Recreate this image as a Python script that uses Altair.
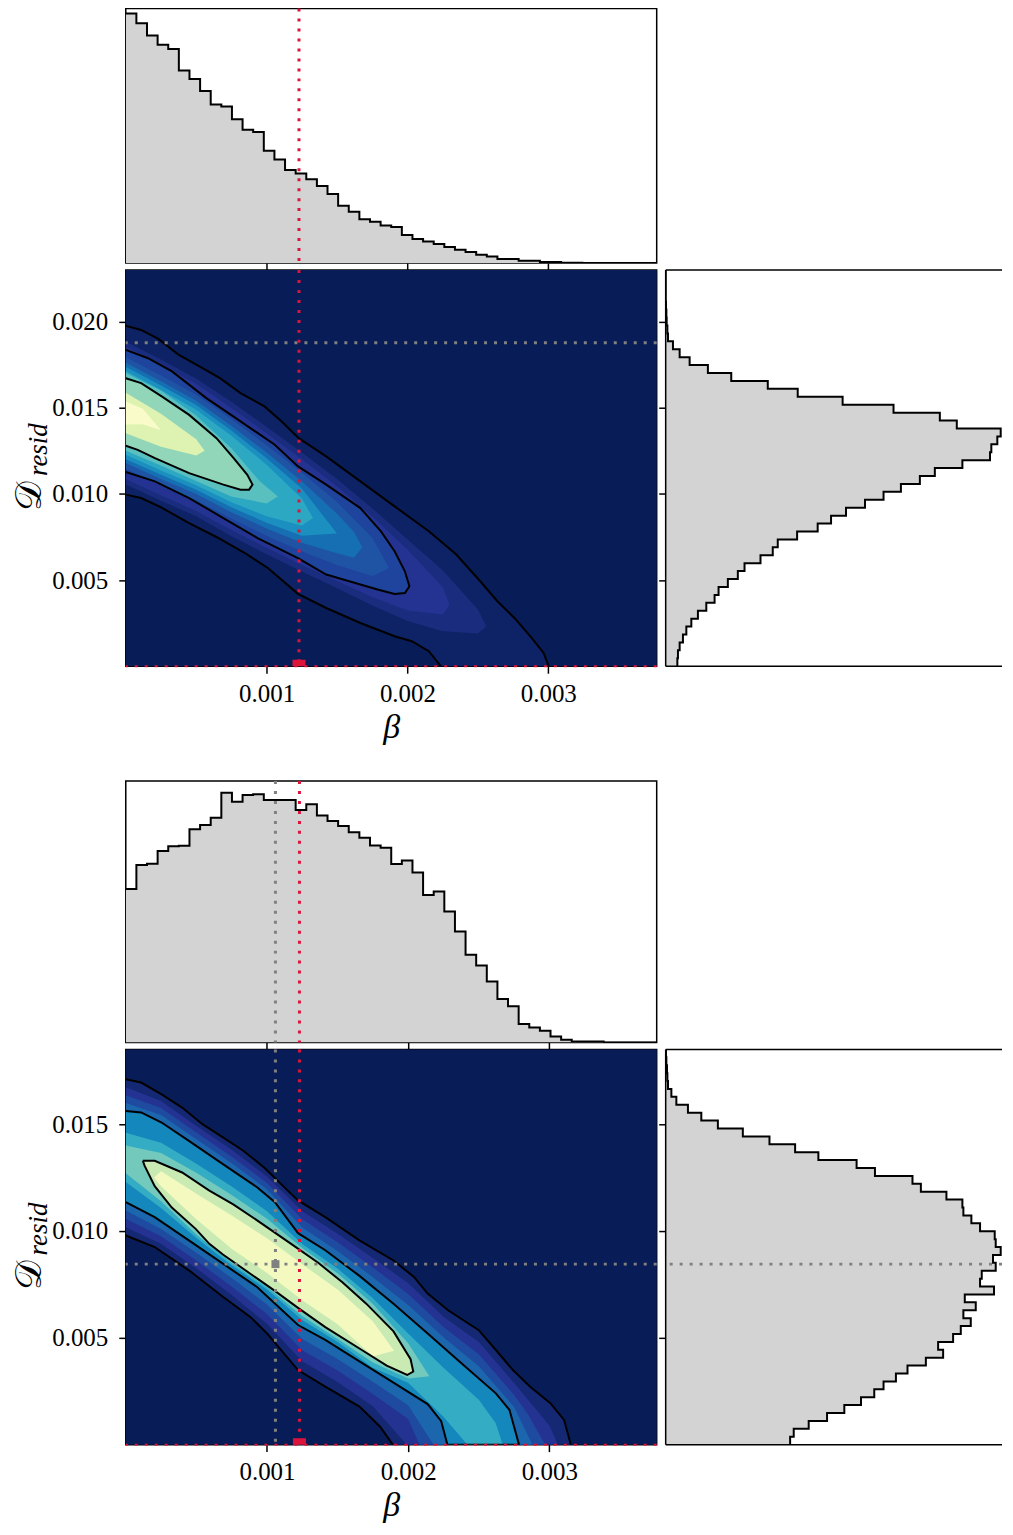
import altair as alt
import pandas as pd

FONT = "Liberation Serif"
RED = "#dc143c"
GRAY = "#808080"
HIST_FILL = "#d3d3d3"

CMAP_STOPS = [0, 0.125, 0.25, 0.375, 0.5, 0.625, 0.75, 0.875, 1.0]
CMAP_COLORS = ["#081d58", "#253494", "#225ea8", "#1d91c0", "#41b6c4",
               "#7fcdbb", "#c7e9b4", "#edf8b1", "#ffffd9"]

W_MAIN, W_RIGHT = 532, 337

# ---------------- figure 1 ----------------
X1_MAX, Y1_MAX = 0.00377, 0.0230
Y1_TICKS = [0.005, 0.010, 0.015, 0.020]
BETA_TRUE = 0.00123
F1_GRAY_D = 0.01878

TOP1 = [0.958, 0.920, 0.873, 0.838, 0.822, 0.739, 0.706, 0.660, 0.609, 0.601,
        0.552, 0.512, 0.503, 0.431, 0.397, 0.357, 0.344, 0.322, 0.296, 0.265,
        0.220, 0.197, 0.168, 0.158, 0.144, 0.138, 0.108, 0.092, 0.083, 0.073,
        0.061, 0.051, 0.042, 0.032, 0.025, 0.015, 0.015, 0.009, 0.009, 0.004,
        0.004, 0.001, 0.001, 0, 0, 0, 0, 0, 0, 0]
RIGHT1 = [11.7, 12.3, 14.0, 17.3, 20.7, 25.7, 32.3, 40.7, 49.0, 53.0,
          62.3, 72.3, 79.0, 95.0, 107.3, 112.3, 131.7, 152.3, 165.7, 180.7,
          199.7, 218.3, 235.7, 254.7, 269.7, 297.3, 325.0, 326.3, 332.3, 335.7,
          291.7, 274.7, 228.3, 177.3, 132.3, 102.3, 65.7, 42.3, 24.0, 14.0,
          7.3, 2.3, 1.7, 1.0, 0.7, 0.3, 0, 0, 0, 0]

C1_OUT_UP = [(0, 0.01976), (0.000109, 0.01952), (0.000231, 0.0190), (0.000377, 0.01807),
             (0.000523, 0.0174), (0.000669, 0.01672), (0.000815, 0.01585), (0.000985, 0.01508),
             (0.001107, 0.01421), (0.001228, 0.01324), (0.001423, 0.01218), (0.001666, 0.01073),
             (0.001909, 0.00928), (0.002152, 0.00783), (0.002347, 0.00648), (0.002517, 0.00493),
             (0.002639, 0.00377), (0.00276, 0.0028), (0.002882, 0.00164), (0.002967, 0.00077),
             (0.003003, 0.0)]
C1_OUT_LO = [(0, 0.00996), (0.000109, 0.00976), (0.000255, 0.0092), (0.00045, 0.0083),
             (0.000644, 0.0075), (0.00084, 0.0066), (0.001009, 0.0057), (0.001223, 0.0042),
             (0.001423, 0.00338), (0.001666, 0.00251), (0.001909, 0.00174), (0.002031, 0.00145),
             (0.002152, 0.00087), (0.002237, 0.0)]
C1_MID = [(0, 0.01836), (0.000158, 0.01788), (0.000328, 0.01711), (0.000572, 0.01556),
          (0.000815, 0.01421), (0.001058, 0.01286), (0.001223, 0.0116), (0.001423, 0.01054),
          (0.001666, 0.00918), (0.001812, 0.00783), (0.001909, 0.00667), (0.001982, 0.00551),
          (0.002014, 0.00464), (0.001982, 0.00425), (0.001909, 0.00419), (0.001788, 0.00445),
          (0.001666, 0.00474), (0.001423, 0.00532), (0.001223, 0.00628), (0.000936, 0.00744),
          (0.000693, 0.0086), (0.00045, 0.00976), (0.000207, 0.01073), (0, 0.01127)]
C1_INNER = [(0, 0.01672), (0.000109, 0.01643), (0.000255, 0.01566), (0.00045, 0.01459),
            (0.000644, 0.01324), (0.000766, 0.01208), (0.000863, 0.01111), (0.0009, 0.01054),
            (0.000876, 0.01025), (0.000815, 0.01025), (0.000693, 0.01054), (0.00045, 0.01121),
            (0.000207, 0.01208), (0.000085, 0.01256), (0, 0.0128)]
# intermediate shading levels of figure 1
F1_L06 = [(0, 0.01885), (0.00025, 0.0178), (0.0005, 0.0167), (0.00075, 0.01535), (0.001, 0.0139),
          (0.00125, 0.0124), (0.0015, 0.01087), (0.00175, 0.00917), (0.002, 0.00737),
          (0.00225, 0.00557), (0.0025, 0.0033), (0.00256, 0.0023), (0.0025, 0.0019),
          (0.00225, 0.00203), (0.002, 0.00263), (0.00175, 0.00353), (0.0015, 0.00453),
          (0.00125, 0.0055), (0.001, 0.0065), (0.00075, 0.00755), (0.0005, 0.0087),
          (0.00025, 0.0096), (0, 0.01055)]
F1_L09 = [(0, 0.01854), (0.00025, 0.01748), (0.0005, 0.01639), (0.00075, 0.01499), (0.001, 0.01353),
          (0.00125, 0.01202), (0.0015, 0.01045), (0.00175, 0.00869), (0.002, 0.00677),
          (0.00225, 0.0046), (0.0023, 0.00355), (0.00225, 0.003), (0.002, 0.00323),
          (0.00175, 0.00401), (0.0015, 0.00495), (0.00125, 0.00588), (0.001, 0.00687),
          (0.00075, 0.00791), (0.0005, 0.00901), (0.00025, 0.00992), (0, 0.01086)]
F1_L18 = [(0, 0.01794), (0.00025, 0.01687), (0.0005, 0.01576), (0.00075, 0.01433), (0.001, 0.01282),
          (0.00125, 0.01123), (0.0015, 0.00953), (0.00175, 0.00746), (0.00187, 0.0057),
          (0.00175, 0.00524), (0.0015, 0.00587), (0.00125, 0.00667), (0.001, 0.00758),
          (0.00075, 0.00857), (0.0005, 0.00964), (0.00025, 0.01053), (0, 0.01146)]
F1_L25 = [(0, 0.01761), (0.00025, 0.01654), (0.0005, 0.01541), (0.00075, 0.01396), (0.001, 0.0124),
          (0.00125, 0.01073), (0.0015, 0.00885), (0.00162, 0.0078), (0.00168, 0.0069),
          (0.00162, 0.0063), (0.0015, 0.00655), (0.00125, 0.00717), (0.001, 0.008),
          (0.00075, 0.00894), (0.0005, 0.00999), (0.00025, 0.01086), (0, 0.01179)]
F1_L31 = [(0, 0.01738), (0.00025, 0.01629), (0.0005, 0.01516), (0.00075, 0.01368), (0.001, 0.01207),
          (0.00125, 0.01032), (0.0015, 0.0077), (0.00125, 0.00758), (0.001, 0.00833),
          (0.00075, 0.00922), (0.0005, 0.01024), (0.00025, 0.01111), (0, 0.01202)]
F1_L38 = [(0, 0.01713), (0.00025, 0.01604), (0.0005, 0.01489), (0.00075, 0.01338), (0.001, 0.0117),
          (0.00125, 0.00973), (0.00133, 0.0086), (0.00125, 0.00817), (0.001, 0.0087),
          (0.00075, 0.00952), (0.0005, 0.01051), (0.00025, 0.01136), (0, 0.01227)]
F1_L48 = [(0, 0.01702), (0.00025, 0.016), (0.0005, 0.01455), (0.00075, 0.01265), (0.00095, 0.01075),
          (0.00108, 0.00985), (0.001, 0.00945), (0.00075, 0.00985), (0.0005, 0.01075),
          (0.00025, 0.01165), (0, 0.0125)]
F1_L80 = [(0, 0.01587), (0.00025, 0.01466), (0.0005, 0.01317), (0.00056, 0.0125),
          (0.0005, 0.01223), (0.00025, 0.01274), (0, 0.01353)]
F1_L93 = [(0, 0.01537), (0.00012, 0.01495), (0.00025, 0.0137), (0.00012, 0.01405), (0, 0.01403)]

# ---------------- figure 2 ----------------
X2_MAX, Y2_MAX = 0.00376, 0.0185
Y2_TICKS = [0.005, 0.010, 0.015]
F2_GRAY_BETA, F2_GRAY_D = 0.00106, 0.00845

TOP2 = [0.587, 0.679, 0.683, 0.732, 0.750, 0.752, 0.815, 0.832, 0.859, 0.955,
        0.921, 0.946, 0.949, 0.927, 0.927, 0.927, 0.889, 0.911, 0.868, 0.847,
        0.828, 0.804, 0.783, 0.753, 0.745, 0.682, 0.696, 0.650, 0.564, 0.577,
        0.501, 0.424, 0.335, 0.294, 0.233, 0.166, 0.138, 0.071, 0.057, 0.045,
        0.023, 0.010, 0.004, 0.004, 0.004, 0, 0, 0, 0, 0]
RIGHT2 = [124.7, 128.3, 143.3, 161.7, 179.0, 195.7, 209.0, 218.3, 230.7, 242.3,
          260.7, 278.0, 273.0, 288.0, 295.7, 305.7, 298.3, 310.7, 299.7, 329.0,
          315.0, 316.7, 330.7, 328.0, 335.7, 330.7, 329.7, 315.0, 306.3, 298.3,
          297.3, 281.3, 255.7, 247.3, 209.7, 191.3, 153.0, 129.7, 104.0, 77.3,
          52.3, 35.7, 22.3, 10.7, 5.7, 2.3, 1.7, 1.3, 0.7, 0.3]

C2_OUT_UP = [(0, 0.0171), (0.000109, 0.01695), (0.000254, 0.0164), (0.000399, 0.01578),
             (0.000543, 0.015), (0.000688, 0.01438), (0.000833, 0.01376), (0.000978, 0.01298),
             (0.001075, 0.01236), (0.00122, 0.01143), (0.001413, 0.01065), (0.001655, 0.00956),
             (0.001896, 0.00862), (0.002041, 0.00785), (0.002138, 0.00707), (0.002283, 0.00629),
             (0.0025, 0.00536), (0.002621, 0.00443), (0.002742, 0.00349), (0.002862, 0.00272),
             (0.003007, 0.00194), (0.003104, 0.00116), (0.003152, 0.0)]
C2_OUT_LO = [(0, 0.00979), (0.000205, 0.00925), (0.000447, 0.00816), (0.000688, 0.00692),
             (0.000882, 0.00598), (0.001002, 0.0052), (0.00122, 0.00349), (0.001413, 0.00272),
             (0.001655, 0.00178), (0.0018, 0.00085), (0.001891, 0.0)]
C2_MID_UP = [(0, 0.01562), (0.000109, 0.01555), (0.000254, 0.01508), (0.000447, 0.01422),
             (0.000688, 0.01313), (0.00093, 0.01205), (0.001056, 0.01135), (0.00122, 0.0099),
             (0.001413, 0.0091), (0.001655, 0.0079), (0.001896, 0.0066), (0.002138, 0.0052),
             (0.002379, 0.0038), (0.002621, 0.0024), (0.002717, 0.00163), (0.002785, 0.0)]
C2_MID_LO = [(0, 0.01135), (0.000205, 0.01065), (0.000447, 0.00956), (0.000688, 0.00847),
             (0.00093, 0.00738), (0.00122, 0.0056), (0.001413, 0.0049), (0.001655, 0.0039),
             (0.001896, 0.0029), (0.002138, 0.0019), (0.002234, 0.0011), (0.002278, 0.0)]
C2_INNER = [(0.000121, 0.01329), (0.000205, 0.01329), (0.000399, 0.01274), (0.000592, 0.01189),
            (0.000761, 0.01125), (0.00093, 0.0105), (0.001171, 0.0094), (0.001365, 0.0085),
            (0.001534, 0.0076), (0.001703, 0.0066), (0.001896, 0.0053), (0.002017, 0.0040),
            (0.002036, 0.00342), (0.001993, 0.00326), (0.001848, 0.0037), (0.001655, 0.0045),
            (0.001413, 0.0055), (0.00122, 0.0064), (0.001056, 0.0072), (0.000882, 0.0080),
            (0.000688, 0.0089), (0.000592, 0.0094), (0.000495, 0.0101), (0.000326, 0.0111),
            (0.000205, 0.0121), (0.000133, 0.01306), (0.000121, 0.01329)]
# intermediate shading levels of figure 2
F2_OO = [(0, 0.01673), (0.00025, 0.01609), (0.0005, 0.01492), (0.00075, 0.0138), (0.001, 0.01255),
         (0.00125, 0.01093), (0.0015, 0.00987), (0.00175, 0.00874), (0.002, 0.00756),
         (0.00225, 0.00599), (0.0025, 0.0048), (0.00275, 0.00288), (0.003, 0.0009),
         (0.00306, 0.0), (0.00199, 0.0), (0.00175, 0.0018), (0.0015, 0.00293), (0.00125, 0.0039),
         (0.001, 0.00566), (0.00075, 0.00701), (0.0005, 0.00826), (0.00025, 0.0094), (0, 0.01018)]
F2_OM = [(0, 0.01636), (0.00025, 0.01576), (0.0005, 0.01461), (0.00075, 0.01348), (0.001, 0.01225),
         (0.00125, 0.01055), (0.0015, 0.00947), (0.00175, 0.00829), (0.002, 0.00705),
         (0.00225, 0.00551), (0.0025, 0.00423), (0.00275, 0.00232), (0.00285, 0.0014),
         (0.00297, 0.0), (0.00208, 0.0), (0.002, 0.0012), (0.00175, 0.00237), (0.0015, 0.00347),
         (0.00125, 0.00442), (0.001, 0.00611), (0.00075, 0.0074), (0.0005, 0.00862),
         (0.00025, 0.00975), (0, 0.01057)]
F2_OMM = [(0, 0.01599), (0.00025, 0.01543), (0.0005, 0.0143), (0.00075, 0.01317), (0.001, 0.01196),
          (0.00125, 0.01017), (0.0015, 0.00907), (0.00175, 0.00784), (0.002, 0.00654),
          (0.00225, 0.00503), (0.0025, 0.00367), (0.00275, 0.00176), (0.00288, 0.0),
          (0.00218, 0.0), (0.002, 0.00184), (0.00175, 0.00294), (0.0015, 0.00401),
          (0.00125, 0.00495), (0.001, 0.00656), (0.00075, 0.0078), (0.0005, 0.00898),
          (0.00025, 0.0101), (0, 0.01096)]
F2_MI = [(0, 0.0146), (0.00025, 0.01413), (0.0005, 0.01315), (0.00075, 0.01208), (0.001, 0.01093),
         (0.00125, 0.00939), (0.0015, 0.00824), (0.00175, 0.00685), (0.002, 0.0052),
         (0.00225, 0.0036), (0.0025, 0.0021), (0.00262, 0.001), (0.00267, 0.0), (0.00242, 0.0),
         (0.00225, 0.0013), (0.002, 0.0029), (0.00175, 0.0036), (0.0015, 0.0048),
         (0.00125, 0.00584), (0.001, 0.00726), (0.00075, 0.0084), (0.0005, 0.00967),
         (0.00025, 0.01108), (0, 0.0123)]
F2_MII = [(0, 0.0140), (0.00025, 0.01365), (0.0005, 0.01273), (0.00075, 0.01169), (0.001, 0.01057),
          (0.00125, 0.0092), (0.0015, 0.00802), (0.00175, 0.00658), (0.002, 0.00475),
          (0.00215, 0.0032), (0.002, 0.0031), (0.00175, 0.00385), (0.0015, 0.00495),
          (0.00125, 0.00602), (0.001, 0.00738), (0.00075, 0.0085), (0.0005, 0.00984),
          (0.00025, 0.01139), (0, 0.0127)]
F2_IN = [(0.0002, 0.0125), (0.00025, 0.0128), (0.0005, 0.01175), (0.00075, 0.01073),
         (0.001, 0.00966), (0.00125, 0.00844), (0.0015, 0.00726), (0.00175, 0.00576),
         (0.0019, 0.0044), (0.00175, 0.00414), (0.0015, 0.00564), (0.00125, 0.00676),
         (0.001, 0.00804), (0.00075, 0.00917), (0.0005, 0.01055), (0.00025, 0.0121)]


# ---------------- helpers ----------------
def poly_df(points, value=None, gid=0):
    df = pd.DataFrame(points, columns=["b", "d"])
    df["i"] = range(len(df))
    df["g"] = gid
    if value is not None:
        df["v"] = value
    return df


def step_points(values, lo, hi):
    n = len(values)
    w = (hi - lo) / n
    pts = [(lo, 0.0)]
    for i, v in enumerate(values):
        pts.append((lo + i * w, v))
        pts.append((lo + (i + 1) * w, v))
    pts.append((hi, 0.0))
    return pts


def vrule(xval, color, X, width=3, dash=(3, 7)):
    return alt.Chart(pd.DataFrame({"b": [xval]})).mark_rule(
        color=color, strokeWidth=width, strokeDash=list(dash)).encode(x=X)


def hrule(yval, color, Y, width=3, dash=(3, 7)):
    return alt.Chart(pd.DataFrame({"d": [yval]})).mark_rule(
        color=color, strokeWidth=width, strokeDash=list(dash)).encode(y=Y)


def top_hist(values, xmax, height, ytop, vlines):
    xs = alt.Scale(domain=[0, xmax], nice=False, zero=False)
    X = alt.X("b:Q", scale=xs, axis=alt.Axis(values=[0.001, 0.002, 0.003], labels=False,
                                            title=None, ticks=True, tickSize=7))
    Y = alt.Y("h:Q", scale=alt.Scale(domain=[0, ytop], nice=False), axis=None)
    pts = step_points(values, 0.0, xmax)
    df = pd.DataFrame(pts, columns=["b", "h"])
    df["i"] = range(len(df))
    fill = alt.Chart(df).mark_line(filled=True, color=HIST_FILL, strokeWidth=0, clip=True).encode(
        x=X, y=Y, order="i:Q")
    outline = alt.Chart(df.iloc[1:-1]).mark_line(color="black", strokeWidth=2, clip=True).encode(
        x=X, y=Y, order="i:Q")
    layers = [fill, outline]
    for xv, col in vlines:
        layers.append(vrule(xv, col, X))
    return alt.layer(*layers).properties(width=W_MAIN, height=height)


def right_hist(values, ymax, height, yticks, hlines):
    Y = alt.Y("d:Q", scale=alt.Scale(domain=[0, ymax], nice=False, zero=False),
              axis=alt.Axis(values=yticks, labels=False, title=None, ticks=True, tickSize=7))
    X = alt.X("h:Q", scale=alt.Scale(domain=[0, W_RIGHT], nice=False), axis=None)
    pts = step_points(values, 0.0, ymax)
    df = pd.DataFrame([(v, e) for (e, v) in pts], columns=["h", "d"])
    df["i"] = range(len(df))
    fill = alt.Chart(df).mark_line(filled=True, color=HIST_FILL, strokeWidth=0, clip=True).encode(
        x=X, y=Y, order="i:Q")
    outline = alt.Chart(df.iloc[1:-1]).mark_line(color="black", strokeWidth=2, clip=True).encode(
        x=X, y=Y, order="i:Q")
    layers = [fill, outline]
    for yv, col in hlines:
        layers.append(hrule(yv, col, Y))
    # frame on three sides (the right side runs off the page)
    frame = alt.Chart(pd.DataFrame({"d": [0.0, ymax]})).mark_rule(
        color="black", strokeWidth=1.5).encode(y=Y)
    left = alt.Chart(pd.DataFrame({"h": [0.0]})).mark_rule(
        color="black", strokeWidth=1.5).encode(x=X)
    layers += [frame, left]
    return alt.layer(*layers).properties(
        width=W_RIGHT, height=height, view=alt.ViewBackground(stroke="transparent"))


def main_panel(xmax, ymax, height, yticks, fills, lines, hlines, vlines, gray_pt=None):
    xs = alt.Scale(domain=[0, xmax], nice=False, zero=False)
    ys = alt.Scale(domain=[0, ymax], nice=False, zero=False)
    cs = alt.Scale(domain=CMAP_STOPS, range=CMAP_COLORS)
    X = alt.X("b:Q", scale=xs, axis=alt.Axis(values=[0.001, 0.002, 0.003], format=".3f",
                                            title="β", titleFontSize=34, titleFontStyle="italic",
                                            titleFontWeight="normal", titlePadding=4,
                                            labelPadding=8, tickSize=7))
    Y = alt.Y("d:Q", scale=ys, axis=alt.Axis(values=yticks, format=".3f", title=None,
                                            labelPadding=11, tickSize=7))
    bg = alt.Chart(pd.DataFrame({"b": [0.0], "b2": [xmax], "d": [0.0], "d2": [ymax]})).mark_rect(
        color=CMAP_COLORS[0]).encode(x=X, x2="b2:Q", y=Y, y2="d2:Q")
    layers = [bg]
    for k, (pts, val) in enumerate(fills):
        layers.append(alt.Chart(poly_df(pts, val, k)).mark_line(
            filled=True, clip=True, strokeWidth=0).encode(
            x=X, y=Y, order="i:Q", color=alt.Color("v:Q", scale=cs, legend=None)))
    for k, pts in enumerate(lines):
        layers.append(alt.Chart(poly_df(pts, None, k)).mark_line(
            color="black", strokeWidth=2, clip=True).encode(x=X, y=Y, order="i:Q"))
    for yv, col in hlines:
        layers.append(hrule(yv, col, Y))
    for xv, col in vlines:
        layers.append(vrule(xv, col, X))
    # truth at the bottom edge
    layers.append(hrule(0.0, RED, Y, width=2, dash=(3, 7)))
    layers.append(alt.Chart(pd.DataFrame({"b": [BETA_TRUE], "d": [0.0]})).mark_square(
        color=RED, size=170, opacity=1, clip=True).encode(x=X, y=Y))
    if gray_pt is not None:
        layers.append(alt.Chart(pd.DataFrame({"b": [gray_pt[0]], "d": [gray_pt[1]]})).mark_square(
            color=GRAY, size=64, opacity=1).encode(x=X, y=Y))
    # y-axis title: calligraphic D with subscript
    layers.append(alt.Chart(pd.DataFrame({"t": ["𝒟"]})).mark_text(
        font=FONT, fontSize=37, angle=270, align="center", baseline="middle").encode(
        text="t:N", x=alt.value(-96), y=alt.value(226)))
    layers.append(alt.Chart(pd.DataFrame({"t": ["resid"]})).mark_text(
        font=FONT, fontSize=27, fontStyle="italic", angle=270, align="center",
        baseline="middle").encode(text="t:N", x=alt.value(-87), y=alt.value(180)))
    return alt.layer(*layers).properties(width=W_MAIN, height=height)


def blank(width, height):
    return alt.Chart(pd.DataFrame({"t": [""]})).mark_text(opacity=0).encode(
        text="t:N", x=alt.value(width / 2), y=alt.value(height / 2)).properties(
        width=width, height=height, view=alt.ViewBackground(stroke="transparent"))


top1 = top_hist(TOP1, X1_MAX, 255, 255 / 261, [(BETA_TRUE, RED)])
main1 = main_panel(
    X1_MAX, Y1_MAX, 397, Y1_TICKS,
    fills=[(C1_OUT_UP + C1_OUT_LO[::-1], 0.03), (F1_L06, 0.08), (F1_L09, 0.12), (C1_MID, 0.17),
           (F1_L18, 0.22), (F1_L25, 0.29), (F1_L31, 0.37), (F1_L38, 0.45), (F1_L48, 0.55),
           (C1_INNER, 0.66), (F1_L80, 0.83), (F1_L93, 0.95)],
    lines=[C1_OUT_UP, C1_OUT_LO, C1_MID, C1_INNER],
    hlines=[(F1_GRAY_D, GRAY)], vlines=[(BETA_TRUE, RED)])
right1 = right_hist(RIGHT1, Y1_MAX, 397, Y1_TICKS, [])

top2 = top_hist(TOP2, X2_MAX, 262, 1.0, [(F2_GRAY_BETA, GRAY), (BETA_TRUE, RED)])
main2 = main_panel(
    X2_MAX, Y2_MAX, 396, Y2_TICKS,
    fills=[(C2_OUT_UP + C2_OUT_LO[::-1], 0.06), (F2_OO, 0.12), (F2_OM, 0.19), (F2_OMM, 0.27),
           (C2_MID_UP + C2_MID_LO[::-1], 0.35), (F2_MI, 0.47), (F2_MII, 0.6),
           (C2_INNER, 0.76), (F2_IN, 0.92)],
    lines=[C2_OUT_UP, C2_OUT_LO, C2_MID_UP + C2_MID_LO[::-1], C2_INNER],
    hlines=[(F2_GRAY_D, GRAY)], vlines=[(F2_GRAY_BETA, GRAY), (BETA_TRUE, RED)],
    gray_pt=(F2_GRAY_BETA, F2_GRAY_D))
right2 = right_hist(RIGHT2, Y2_MAX, 396, Y2_TICKS, [(F2_GRAY_D, GRAY)])

chart = alt.concat(
    top1, blank(W_RIGHT, 255),
    main1, right1,
    blank(W_MAIN, 101), blank(W_RIGHT, 101),
    top2, blank(W_RIGHT, 262),
    main2, right2,
    columns=2, spacing={"row": 7, "column": 9}, bounds="flush", align="each",
).properties(
    padding={"left": 2, "top": -4, "right": 0, "bottom": 0}
).configure_view(stroke="black", strokeWidth=1.5).configure_axis(
    labelFont=FONT, labelFontSize=25, labelColor="black", tickColor="black", tickWidth=1.5,
    grid=False, domain=False, titleFont=FONT, titleColor="black")

chart.save("out.html", embed_options={"renderer": "svg", "actions": False})
